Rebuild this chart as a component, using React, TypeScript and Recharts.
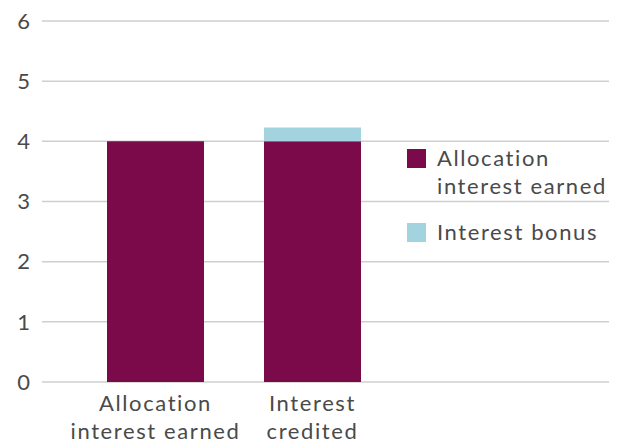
import { BarChart, Bar, XAxis, YAxis, CartesianGrid } from "recharts"

const categories = [["Allocation", "interest earned"], ["Interest", "credited"]]
const allocationInterest = [4, 4]
const interestBonus = [0, 0.23]
const yTicks = [0, 1, 2, 3, 4, 5, 6]
const seriesNames = [["Allocation", "interest earned"], ["Interest bonus"]]
const seriesColors = ["#7a0a4a", "#a3d3df"]

const data = categories.map((c, i) => ({
  name: c.join(" "),
  allocation: allocationInterest[i],
  bonus: interestBonus[i],
}))

const FONT = "Lato, 'Open Sans', sans-serif"
const TEXT = "#4a4a4a"
const SPACING = 1.6

function CategoryTick(props: any) {
  const { x, y, payload } = props
  const lines = categories[payload.index] || [payload.value]
  return (
    <text x={x} y={y} textAnchor="middle" fill={TEXT} fontSize={22} fontFamily={FONT} letterSpacing={SPACING}>
      {lines.map((l: string, i: number) => (
        <tspan key={i} x={x} dy={i === 0 ? 21 : 28}>
          {l}
        </tspan>
      ))}
    </text>
  )
}

function LegendBox() {
  return (
    <div
      style={{
        position: "absolute",
        left: 407,
        top: 144,
        fontFamily: FONT,
        fontSize: 22,
        letterSpacing: SPACING,
        color: TEXT,
        lineHeight: "28px",
      }}
    >
      {seriesNames.map((n, i) => (
        <div key={i} style={{ display: "flex", alignItems: "flex-start", marginBottom: 18 }}>
          <div
            style={{
              width: 19,
              height: 19,
              background: seriesColors[i],
              marginTop: 5,
              marginRight: 11,
              flexShrink: 0,
            }}
          />
          <div>
            {n.map((l, j) => (
              <div key={j} style={{ whiteSpace: "nowrap" }}>{l}</div>
            ))}
          </div>
        </div>
      ))}
    </div>
  )
}

export default function App() {
  return (
    <div style={{ position: "absolute", left: 0, top: 0, width: 619, height: 443, background: "#fff" }}>
      <BarChart
        width={619}
        height={443}
        data={data}
        margin={{ top: 21, right: 10, left: 0, bottom: 0 }}
        barSize={97}
      >
        <CartesianGrid vertical={false} stroke="#cfcfcf" strokeWidth={1.5} />
        <XAxis
          dataKey="name"
          axisLine={false}
          tickLine={false}
          height={61}
          interval={0}
          padding={{ left: 35, right: 218 }}
          tick={<CategoryTick />}
        />
        <YAxis
          domain={[0, 6]}
          ticks={yTicks}
          axisLine={false}
          tickLine={false}
          width={42}
          tickMargin={6}
          tick={{ fill: TEXT, fontSize: 22, fontFamily: FONT }}
        />
        <Bar dataKey="allocation" stackId="a" fill={seriesColors[0]} isAnimationActive={false} />
        <Bar dataKey="bonus" stackId="a" fill={seriesColors[1]} isAnimationActive={false} />
      </BarChart>
      <LegendBox />
    </div>
  )
}
